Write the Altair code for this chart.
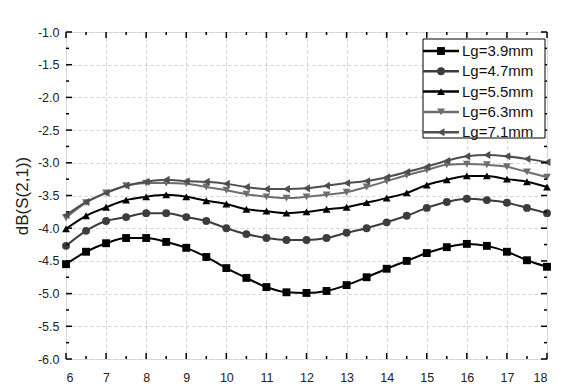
import altair as alt
import pandas as pd

# ---- data ----
freq = [6.0, 6.5, 7.0, 7.5, 8.0, 8.5, 9.0, 9.5, 10.0, 10.5, 11.0, 11.5, 12.0,
        12.5, 13.0, 13.5, 14.0, 14.5, 15.0, 15.5, 16.0, 16.5, 17.0, 17.5, 18.0]

series_names = ["Lg=3.9mm", "Lg=4.7mm", "Lg=5.5mm", "Lg=6.3mm", "Lg=7.1mm"]

lg39 = [-4.55, -4.36, -4.23, -4.15, -4.15, -4.21, -4.30, -4.44, -4.61, -4.76, -4.90, -4.98, -4.99,
        -4.96, -4.87, -4.75, -4.62, -4.50, -4.38, -4.29, -4.24, -4.27, -4.36, -4.49, -4.59]
lg47 = [-4.27, -4.04, -3.89, -3.83, -3.77, -3.77, -3.83, -3.89, -4.00, -4.09, -4.15, -4.18, -4.18,
        -4.15, -4.07, -4.00, -3.91, -3.81, -3.69, -3.60, -3.55, -3.57, -3.61, -3.69, -3.77]
lg55 = [-4.01, -3.81, -3.68, -3.57, -3.52, -3.49, -3.52, -3.58, -3.63, -3.71, -3.74, -3.77, -3.75,
        -3.71, -3.68, -3.61, -3.54, -3.46, -3.34, -3.26, -3.20, -3.20, -3.25, -3.29, -3.37]
lg63 = [-3.84, -3.61, -3.46, -3.35, -3.31, -3.31, -3.32, -3.37, -3.42, -3.48, -3.52, -3.54, -3.52,
        -3.49, -3.45, -3.37, -3.28, -3.19, -3.11, -3.03, -3.02, -3.03, -3.06, -3.14, -3.22]
lg71 = [-3.80, -3.60, -3.46, -3.35, -3.29, -3.26, -3.28, -3.29, -3.32, -3.37, -3.40, -3.40, -3.39,
        -3.35, -3.31, -3.28, -3.22, -3.14, -3.06, -2.97, -2.90, -2.88, -2.90, -2.94, -2.99]

x_ticks = [6, 7, 8, 9, 10, 11, 12, 13, 14, 15, 16, 17, 18]
x_minor = [6.5, 7.5, 8.5, 9.5, 10.5, 11.5, 12.5, 13.5, 14.5, 15.5, 16.5, 17.5]
y_ticks = [-6.0, -5.5, -5.0, -4.5, -4.0, -3.5, -3.0, -2.5, -2.0, -1.5, -1.0]
y_minor = [-5.75, -5.25, -4.75, -4.25, -3.75, -3.25, -2.75, -2.25, -1.75, -1.25]

colors = ["#000000", "#3c3c3c", "#000000", "#6e6e6e", "#4e4e4e"]
shapes = ["square", "circle", "triangle-up", "triangle-down", "triangle-left"]

# ---- build tables ----
rows = []
for name, vals in zip(series_names, [lg39, lg47, lg55, lg63, lg71]):
    for f, v in zip(freq, vals):
        rows.append({"freq": f, "db": v, "series": name})
df = pd.DataFrame(rows)

W, H = 481, 327
FONT = "Liberation Sans"
MSIZE = 62

color_enc = alt.Color("series:N", scale=alt.Scale(domain=series_names, range=colors), legend=None)
shape_enc = alt.Shape("series:N", scale=alt.Scale(domain=series_names, range=shapes), legend=None)

xscale = alt.Scale(domain=[6, 18], nice=False, zero=False)
yscale = alt.Scale(domain=[-6, -1], nice=False, zero=False)

x_axis = alt.Axis(values=x_ticks, format="d", title=None, grid=True, gridDash=[3, 3],
                  gridColor="#d0d0d0", tickSize=0, domain=False, labelPadding=12,
                  labelFontSize=12.5, labelColor="#222", labelFont=FONT, labelOverlap=False)
y_axis = alt.Axis(values=y_ticks, title="dB(S(2,1))", grid=True, gridDash=[3, 3],
                  gridColor="#d0d0d0", tickSize=0, domain=False, labelPadding=7,
                  labelExpr="(datum.value < 0 ? '-' : '') + format(abs(datum.value), '.1f')",
                  labelFontSize=12.5, labelColor="#222", labelFont=FONT, labelOverlap=False,
                  titleFontSize=17, titleFont=FONT, titleFontWeight="normal",
                  titleColor="#222", titlePadding=6)

base = alt.Chart(df)
lines = base.mark_line(interpolate="monotone", strokeWidth=2).encode(
    x=alt.X("freq:Q", scale=xscale, axis=x_axis),
    y=alt.Y("db:Q", scale=yscale, axis=y_axis),
    color=color_enc,
    detail="series:N",
)
points = base.mark_point(filled=True, size=MSIZE, opacity=1).encode(
    x=alt.X("freq:Q", scale=xscale, axis=x_axis),
    y=alt.Y("db:Q", scale=yscale, axis=y_axis),
    color=color_enc,
    shape=shape_enc,
)

# inward ticks
def xticks(vals, length):
    d = pd.DataFrame({"t": vals})
    bot = alt.Chart(d).mark_rule(color="black", strokeWidth=1.5).encode(
        x=alt.X("t:Q", scale=xscale, axis=x_axis), y=alt.value(H), y2=alt.value(H - length))
    top = alt.Chart(d).mark_rule(color="black", strokeWidth=1.5).encode(
        x=alt.X("t:Q", scale=xscale, axis=x_axis), y=alt.value(0), y2=alt.value(length))
    return [bot, top]

def yticks(vals, length):
    d = pd.DataFrame({"t": vals})
    left = alt.Chart(d).mark_rule(color="black", strokeWidth=1.5).encode(
        y=alt.Y("t:Q", scale=yscale, axis=y_axis), x=alt.value(0), x2=alt.value(length))
    right = alt.Chart(d).mark_rule(color="black", strokeWidth=1.5).encode(
        y=alt.Y("t:Q", scale=yscale, axis=y_axis), x=alt.value(W), x2=alt.value(W - length))
    return [left, right]

tick_layers = xticks(x_ticks, 6) + xticks(x_minor, 3) + yticks(y_ticks, 6) + yticks(y_minor, 3)

# legend
leg = pd.DataFrame({"series": series_names, "idx": list(range(5))})
leg_base = alt.Chart(leg).transform_calculate(ypix="19 + datum.idx * 20.3")
box = alt.Chart(pd.DataFrame({"a": [0]})).mark_rect(
    fill="white", stroke="black", strokeWidth=1).encode(
    x=alt.value(357), x2=alt.value(479), y=alt.value(7), y2=alt.value(106))
leg_lines = leg_base.mark_rule(strokeWidth=2.5).encode(
    x=alt.value(357), x2=alt.value(393),
    y=alt.Y("ypix:Q", scale=None, axis=None), color=color_enc)
leg_pts = leg_base.mark_point(filled=True, size=MSIZE, opacity=1).encode(
    x=alt.value(375), y=alt.Y("ypix:Q", scale=None, axis=None),
    color=color_enc, shape=shape_enc)
leg_txt = leg_base.mark_text(align="left", baseline="middle", fontSize=15,
                             font=FONT, color="#111").encode(
    x=alt.value(396), y=alt.Y("ypix:Q", scale=None, axis=None), text="series:N")

chart = alt.layer(lines, points, *tick_layers, box, leg_lines, leg_pts, leg_txt).properties(
    width=W, height=H,
    autosize=alt.AutoSizeParams(type="none"),
    padding={"left": 58, "top": 24, "right": 22, "bottom": 24},
).configure_view(stroke="black", strokeWidth=2).configure_axis(
    labelOverlap=False).configure(background="white")

chart.save("out.html", embed_options={"renderer": "svg", "actions": False})
